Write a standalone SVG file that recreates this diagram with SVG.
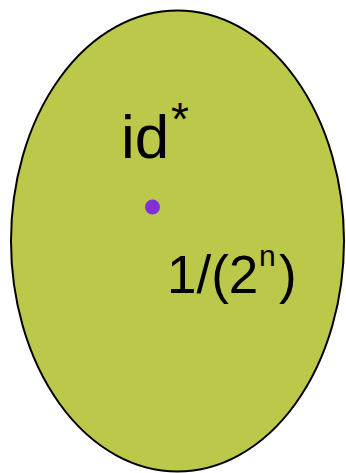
<svg xmlns="http://www.w3.org/2000/svg" width="346" height="473" viewBox="0 0 346 473">
<style>
.lbl{font-family:"Liberation Sans",Arial,sans-serif;fill:#000}
</style>
<rect width="346" height="473" fill="#fff"/>
<g id="region">
<ellipse cx="177.5" cy="241" rx="166.5" ry="230.5" fill="#BCC84A" stroke="#000" stroke-width="2"/>
</g>
<g id="label-id">
<text class="lbl" x="121" y="158" font-size="62">id</text>
<text class="lbl" x="171" y="135" font-size="46">*</text>
</g>
<g id="point">
<circle cx="152.5" cy="207" r="7.5" fill="#8430D8"/>
</g>
<g id="label-prob">
<text class="lbl" x="167" y="293" font-size="53">1/(2</text>
<text class="lbl" x="259" y="266" font-size="30">n</text>
<text class="lbl" x="279" y="293" font-size="53">)</text>
</g>
</svg>
